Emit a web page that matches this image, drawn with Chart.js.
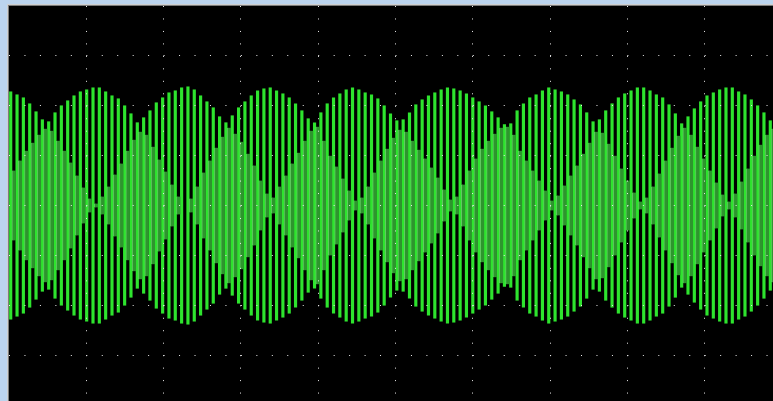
<!DOCTYPE html>
<html>
<head>
<meta charset="utf-8">
<script src="https://cdn.jsdelivr.net/npm/chart.js@4.4.0/dist/chart.umd.min.js"></script>
<style>
  html, body { margin: 0; padding: 0; overflow: hidden; width: 773px; height: 401px; background: #bcd4ee; }
  #frame { position: absolute; left: 7px; top: 4px; width: 800px; height: 420px; background: #cfcfcf; }
  #screen { position: absolute; left: 8px; top: 5px; width: 800px; height: 420px; background: #000;
            border-left: 1px solid #7c7c7c; border-top: 1px solid #7c7c7c; box-sizing: border-box; }
  #scope { position: absolute; left: 9px; top: 6px; }
</style>
</head>
<body>
<div id="frame"></div>
<div id="screen"></div>
<canvas id="scope" width="773" height="399"></canvas>
<script>
// peak amplitude (divisions) of each bright stroke, left to right
const brightAmplitude = [
  2.28, 2.22, 2.16, 2.04, 1.88, 1.72, 1.68, 1.86, 2.00, 2.10,
  2.20, 2.28, 2.32, 2.36, 2.36, 2.28, 2.20, 2.14, 2.00, 1.84,
  1.66, 1.76, 1.90, 2.06, 2.16, 2.26, 2.30, 2.36, 2.38, 2.32,
  2.20, 2.08, 1.96, 1.78, 1.66, 1.80, 1.96, 2.08, 2.20, 2.30,
  2.34, 2.36, 2.30, 2.24, 2.16, 2.04, 1.90, 1.74, 1.66, 1.86,
  2.04, 2.16, 2.24, 2.32, 2.36, 2.32, 2.26, 2.22, 2.14, 2.00,
  1.84, 1.70, 1.72, 1.86, 2.02, 2.12, 2.20, 2.26, 2.32, 2.36,
  2.34, 2.30, 2.24, 2.16, 2.08, 2.00, 1.88, 1.76, 1.62, 1.64,
  1.90, 2.04, 2.16, 2.22, 2.30, 2.36, 2.32, 2.28, 2.22, 2.12,
  2.02, 1.86, 1.68, 1.72, 1.90, 2.04, 2.16, 2.24, 2.30, 2.36,
  2.36, 2.30, 2.22, 2.16, 2.02, 1.84, 1.64, 1.78, 1.94, 2.08,
  2.20, 2.26, 2.32, 2.36, 2.36, 2.28, 2.22, 2.12, 2.00, 1.86,
  1.70
];

// peak amplitude (divisions) of the dimmer strokes in between
const innerAmplitude = [
  0.70, 0.90, 1.10, 1.26, 1.42, 1.54, 1.50, 1.30, 1.10, 0.86,
  0.60, 0.36, 0.14, 0.04, 0.18, 0.38, 0.62, 0.84, 1.10, 1.32,
  1.48, 1.42, 1.18, 0.92, 0.68, 0.42, 0.18, 0.00, 0.14, 0.38,
  0.66, 0.90, 1.16, 1.38, 1.56, 1.44, 1.28, 1.04, 0.80, 0.50,
  0.24, 0.16, 0.38, 0.60, 0.84, 1.06, 1.30, 1.50, 1.58, 1.30,
  1.00, 0.78, 0.54, 0.30, 0.10, 0.16, 0.38, 0.66, 0.90, 1.14,
  1.36, 1.52, 1.48, 1.30, 1.12, 0.94, 0.76, 0.56, 0.32, 0.12,
  0.18, 0.42, 0.70, 0.94, 1.14, 1.30, 1.44, 1.56, 1.58, 1.42,
  1.10, 0.90, 0.70, 0.50, 0.30, 0.10, 0.20, 0.40, 0.60, 0.80,
  1.04, 1.26, 1.48, 1.46, 1.24, 1.00, 0.74, 0.50, 0.26, 0.08,
  0.16, 0.38, 0.64, 0.90, 1.16, 1.40, 1.56, 1.42, 1.18, 0.94,
  0.70, 0.46, 0.22, 0.08, 0.24, 0.48, 0.74, 1.00, 1.22, 1.42,
  1.54
];

const xGridDivisions = [0, 1, 2, 3, 4, 5, 6, 7, 8, 9, 10];
const yGridDivisions = [-4, -3, -2, -1, 0, 1, 2, 3, 4];

const xStart = -0.27;        // screen left edge, in stroke units
const xPerDivision = 12.212; // strokes per horizontal division

const brightData = brightAmplitude.map((a, k) => ({ x: k, y: [-a, a] }));
const innerData = innerAmplitude.map((a, k) => ({ x: k + 0.5, y: [-a, a] }));

new Chart(document.getElementById("scope"), {
  type: "bar",
  data: {
    datasets: [
      {
        label: "inner",
        data: innerData,
        backgroundColor: "#2e952e",
        borderColor: "#62cc62",
        borderWidth: { left: 1, right: 0, top: 0, bottom: 0 },
        borderSkipped: false,
        barThickness: 4,
        grouped: false,
      },
      {
        label: "signal",
        data: brightData,
        backgroundColor: "#2ee42e",
        borderWidth: 0,
        barThickness: 2.5,
        grouped: false,
      },
    ],
  },
  options: {
    responsive: false,
    animation: false,
    devicePixelRatio: 1,
    layout: { padding: 0 },
    plugins: { legend: { display: false }, tooltip: { enabled: false } },
    scales: {
      x: {
        type: "linear",
        offset: false,
        min: xStart,
        max: xStart + xPerDivision * 10,
        afterBuildTicks: (scale) => {
          scale.ticks = xGridDivisions.map((d) => ({ value: xStart + d * xPerDivision }));
        },
        ticks: { display: false },
        grid: {
          z: 1,
          offset: false,
          drawTicks: false,
          lineWidth: 1,
          color: (ctx) => (ctx.index === 0 ? "rgba(0,0,0,0)" : "#ececec"),
        },
        border: { display: false, dash: [1, 11.47] },
      },
      y: {
        type: "linear",
        min: -4,
        max: 4,
        afterBuildTicks: (scale) => {
          scale.ticks = yGridDivisions.map((v) => ({ value: v }));
        },
        ticks: { display: false },
        grid: {
          z: 1,
          drawTicks: false,
          lineWidth: 1,
          color: (ctx) => (ctx.tick && ctx.tick.value === 4 ? "rgba(0,0,0,0)" : "#ececec"),
        },
        border: { display: false, dash: [1, 14.46] },
      },
    },
  },
});
</script>
</body>
</html>
